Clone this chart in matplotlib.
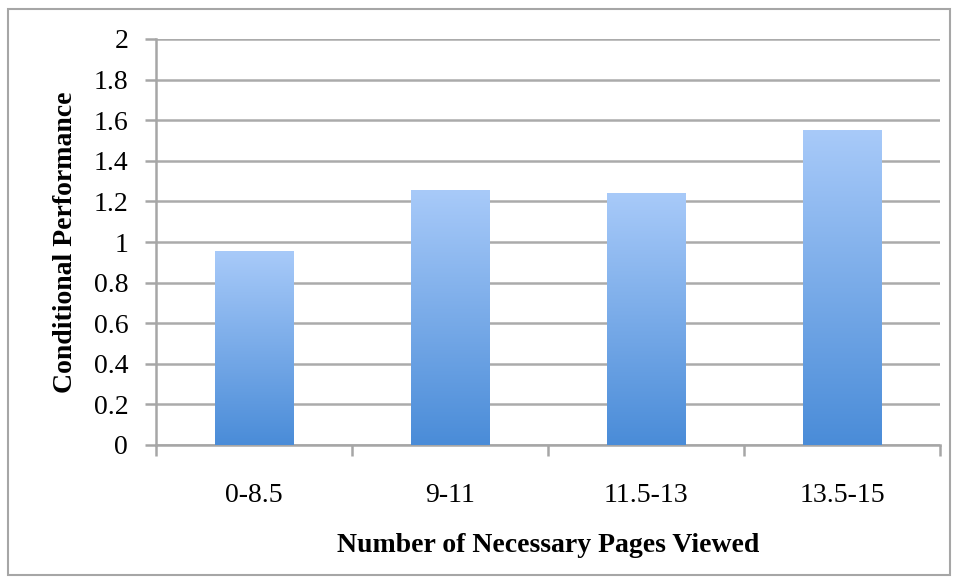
import numpy as np
import matplotlib.pyplot as plt
from matplotlib.patches import Rectangle
from matplotlib.colors import LinearSegmentedColormap

# Data
categories = ['0-8.5', '9-11', '11.5-13', '13.5-15']
performance = [0.955, 1.255, 1.24, 1.55]

plt.rcParams['font.family'] = ['Liberation Serif', 'DejaVu Serif']

fig = plt.figure(figsize=(9.58, 5.81), dpi=100)
# outer border around the chart area
fig.patches.append(Rectangle((8 / 958, 6 / 581), 942 / 958, 566 / 581,
                             transform=fig.transFigure, fill=False,
                             edgecolor='#a6a6a6', linewidth=1.5))

ax = fig.add_axes([156 / 958, 136 / 581, 784 / 958, 406 / 581])

grad = LinearSegmentedColormap.from_list('bar', ['#4a8cd8', '#a8caf9'])
x = np.arange(len(categories))
bars = ax.bar(x, performance, width=0.4, color='none', zorder=3)
gimg = np.linspace(0, 1, 256).reshape(-1, 1)
for b in bars:
    x0, y0 = b.get_x(), b.get_y()
    w, h = b.get_width(), b.get_height()
    im = ax.imshow(gimg, cmap=grad, origin='lower', aspect='auto',
                   extent=(x0, x0 + w, y0, y0 + h), zorder=3)
    im.set_clip_path(b)

ax.set_xlim(-0.5, len(categories) - 0.5)
ax.set_ylim(0, 2)
ax.set_yticks(np.arange(0, 2.01, 0.2))
ax.set_yticklabels(['0', '0.2', '0.4', '0.6', '0.8', '1', '1.2', '1.4', '1.6', '1.8', '2'])
ax.set_xticks(x)
ax.set_xticklabels(categories)
ax.set_xticks(np.arange(-0.5, len(categories), 1), minor=True)

ax.grid(axis='y', color='#ababab', linewidth=1.8, zorder=0)
for s in ['top', 'right']:
    ax.spines[s].set_visible(False)
for s in ['left', 'bottom']:
    ax.spines[s].set_color('#a6a6a6')
    ax.spines[s].set_linewidth(1.8)

ax.tick_params(axis='y', length=8, width=1.8, color='#a6a6a6', labelsize=20, pad=12)
ax.tick_params(axis='x', which='major', length=0, labelsize=20, pad=27)
ax.tick_params(axis='x', which='minor', length=8, width=1.8, color='#a6a6a6')

ax.set_xlabel('Number of Necessary Pages Viewed', fontsize=20, fontweight='bold', labelpad=18)
ax.set_ylabel('Conditional Performance', fontsize=20, fontweight='bold', labelpad=11)

fig.savefig('out.png', dpi=100)
